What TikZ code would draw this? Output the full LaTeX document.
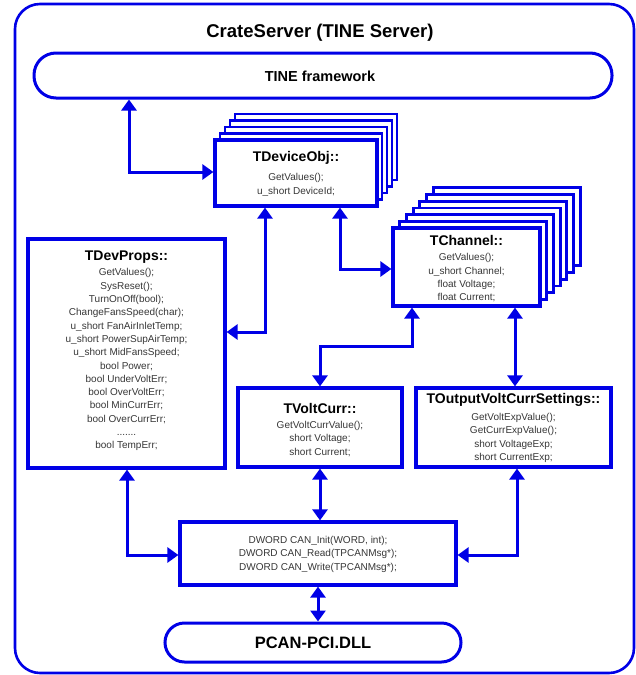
\documentclass[tikz,border=0pt]{standalone}
\usepackage{fontspec}
\setmainfont{Liberation Sans}
\usetikzlibrary{arrows.meta}
\definecolor{lineblue}{RGB}{0,0,230}
\definecolor{txtgray}{RGB}{55,55,55}
\begin{document}
\begin{tikzpicture}[x=1pt,y=-1pt,
  box/.style={draw=lineblue, line width=3.2pt, fill=white, shape=rectangle, inner sep=0pt},
  backbox/.style={draw=lineblue, line width=2.8pt, fill=white},
  pill/.style={draw=lineblue, line width=3pt, fill=white, shape=rectangle, inner sep=0pt},
  outerbox/.style={draw=lineblue, line width=2.6pt, rounded corners=25pt, shape=rectangle, inner sep=0pt},
  ttl/.style={font=\fontsize{14}{16}\selectfont\bfseries, text=black, inner sep=0pt},
  body/.style={font=\fontsize{10}{13.3}\selectfont, text=txtgray, align=center, inner sep=0pt, anchor=north},
  conn/.style={draw=lineblue, line width=3pt, {Triangle[length=11pt,width=15pt]}-{Triangle[length=11pt,width=15pt]}}
]
\useasboundingbox (0,0) rectangle (636,675);

% outer frame
\node[outerbox, minimum width=619pt, minimum height=669pt] (crate) at (324.5,338.5) {};
\node[font=\fontsize{18.5}{21}\selectfont\bfseries, inner sep=0pt] (cratetitle) at (320,33) {CrateServer (TINE Server)};

% TINE framework
\node[pill, rounded corners=22pt, minimum width=578pt, minimum height=45pt] (tine) at (323,75.5) {};
\node[font=\fontsize{14.5}{16}\selectfont\bfseries, inner sep=0pt] (tinetxt) at (320,76) {TINE framework};

% TDeviceObj stack
\foreach \i in {4,3,2,1} {
  \draw[backbox] (215+5*\i,140-6.5*\i) rectangle ++(162,66);
}
\node[box, minimum width=162pt, minimum height=66pt] (devobj) at (296,173) {};
\node[ttl] (devobjttl) at (296,158) {TDeviceObj::};
\node[body] (devobjbody) at (296,173.5) {GetValues();\\u\_short DeviceId;};

% TChannel stack
\foreach \i in {6,5,...,1} {
  \draw[backbox] (393+6.7*\i,228-6.7*\i) rectangle ++(147,78);
}
\node[box, minimum width=147pt, minimum height=78pt] (channel) at (466.5,267) {};
\node[ttl] (channelttl) at (466.5,240) {TChannel::};
\node[body] (channelbody) at (466.5,253.5) {GetValues();\\u\_short Channel;\\float Voltage;\\float Current;};

% TDevProps
\node[box, minimum width=197pt, minimum height=229pt] (devprops) at (126.5,353.5) {};
\node[ttl] (devpropsttl) at (126.5,257) {TDevProps::};
\node[body] (devpropsbody) at (126.5,268.5) {GetValues();\\SysReset();\\TurnOnOff(bool);\\ChangeFansSpeed(char);\\u\_short FanAirInletTemp;\\u\_short PowerSupAirTemp;\\u\_short MidFansSpeed;\\bool Power;\\bool UnderVoltErr;\\bool OverVoltErr;\\bool MinCurrErr;\\bool OverCurrErr;\\.......\\bool TempErr;};

% TVoltCurr
\node[box, minimum width=164pt, minimum height=79pt] (voltcurr) at (320,427.5) {};
\node[ttl] (voltcurrttl) at (320,408) {TVoltCurr::};
\node[body] (voltcurrbody) at (320,421) {GetVoltCurrValue();\\short Voltage;\\short Current;};

% TOutputVoltCurrSettings
\node[box, minimum width=195pt, minimum height=79pt] (toutput) at (513.5,427.5) {};
\node[ttl] (toutputttl) at (513.5,400) {TOutputVoltCurrSettings::};
\node[body] (toutputbody) at (513.5,413) {GetVoltExpValue();\\GetCurrExpValue();\\short VoltageExp;\\short CurrentExp;};

% CAN functions
\node[box, minimum width=276pt, minimum height=63pt] (can) at (318,553.5) {};
\node[body] (canbody) at (318,536) {DWORD CAN\_Init(WORD, int);\\DWORD CAN\_Read(TPCANMsg*);\\DWORD CAN\_Write(TPCANMsg*);};

% PCAN-PCI.DLL
\node[pill, rounded corners=19.5pt, minimum width=296pt, minimum height=39pt] (pcan) at (313,642.5) {};
\node[font=\fontsize{16.5}{18}\selectfont\bfseries, inner sep=0pt] (pcantxt) at (313,643) {PCAN-PCI.DLL};

% connector joints
\coordinate (j1) at (129,172);
\coordinate (j2) at (265,332);
\coordinate (j3) at (340,269);
\coordinate (j4) at (412,346);
\coordinate (j5) at (515,346);
\coordinate (j7) at (127,555);
\coordinate (j8) at (517,555);

% connectors
\draw[conn] (tine.south -| j1) |- (devobj.west |- j1);
\draw[conn] (devobj.south -| j2) |- (devprops.east |- j2);
\draw[conn] (devobj.south -| j3) |- (channel.west |- j3);
\draw[conn] (channel.south -| j4) |- (j4) -| (voltcurr.north);
\draw[conn] (channel.south -| j5) -- (toutput.north -| j5);
\draw[conn] (voltcurr.south) -- (can.north -| voltcurr.south);
\draw[conn] (devprops.south -| j7) |- (can.west |- j7);
\draw[conn] (toutput.south -| j8) |- (can.east |- j8);
\draw[conn] (can.south) -- (can.south |- pcan.north);
\end{tikzpicture}
\end{document}
